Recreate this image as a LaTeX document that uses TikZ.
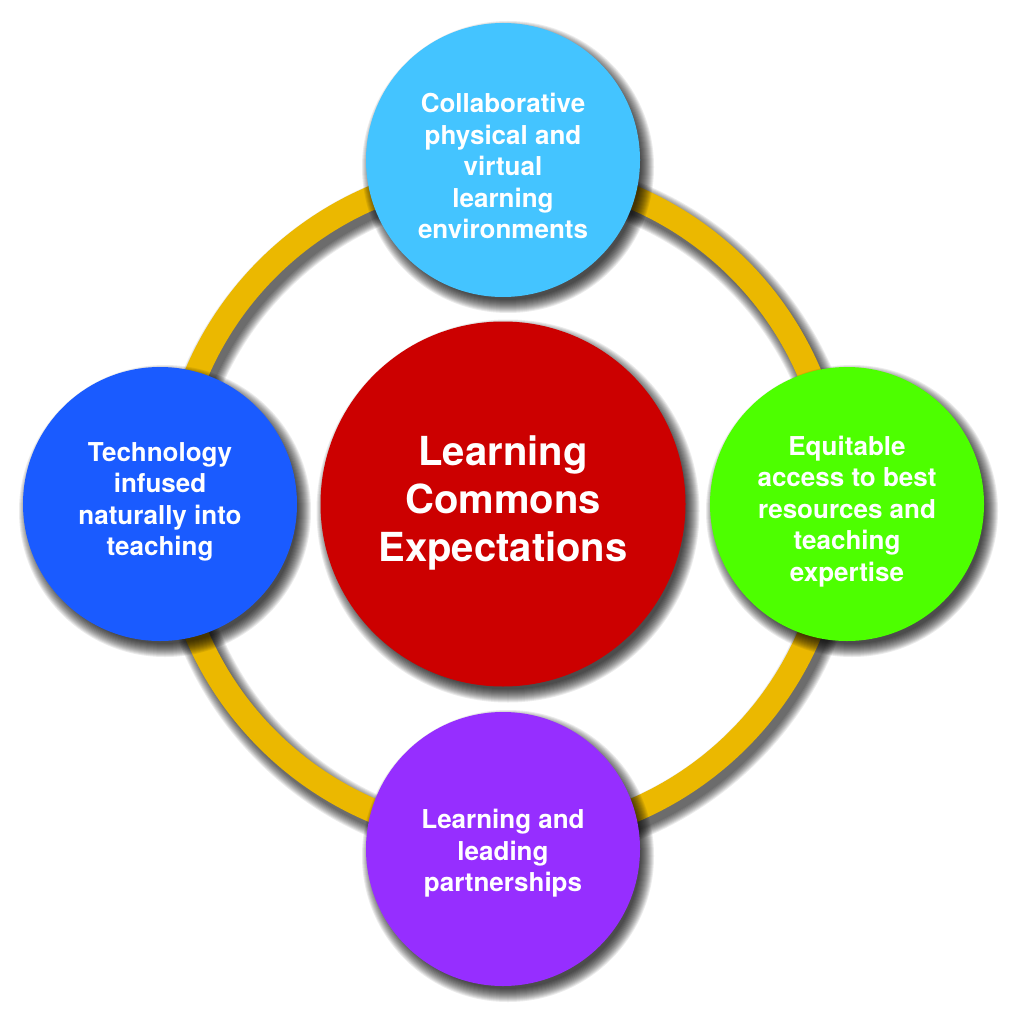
\documentclass[tikz,border=0pt]{standalone}
\usepackage{fontspec}
\setmainfont{TeX Gyre Heros}
\definecolor{ringgold}{HTML}{EBB800}
\definecolor{cred}{HTML}{CC0000}
\definecolor{ccyan}{HTML}{44C4FF}
\definecolor{cblue}{HTML}{1A5BFF}
\definecolor{cgreen}{HTML}{4DFF00}
\definecolor{cpurple}{HTML}{962EFF}
\tikzset{
  bubble/.style={circle, inner sep=0pt, minimum size=274pt},
  hub/.style={circle, inner sep=0pt, minimum size=365pt, fill=cred},
  sattext/.style={text=white, align=center, inner sep=0pt, font=\bfseries\fontsize{26}{31.5}\selectfont},
  hubtext/.style={text=white, align=center, inner sep=0pt, font=\bfseries\fontsize{40}{48}\selectfont},
  shadowlayer/.style={black, opacity=0.08}
}
\newcommand\myshadow[2]{%
  \foreach \k [evaluate=\k as \rr using #2-4+\k] in {0,...,13}{%
    \fill[shadowlayer] ([xshift=5pt,yshift=-7pt]#1) circle[radius=\rr pt];
  }%
}
\begin{document}
\begin{tikzpicture}[x=1pt,y=-1pt]
\useasboundingbox (0,0) rectangle (1022,1024);
\fill[white] (0,0) rectangle (1022,1024);
\coordinate (c) at (503,504);
\coordinate (ptop) at (503,160);
\coordinate (pleft) at (160,504);
\coordinate (pright) at (847,504);
\coordinate (pbottom) at (503,849);
% ring
\foreach \k [evaluate=\k as \w using 24+2*\k] in {0,...,9}{%
  \draw[shadowlayer, line width=\w pt] ([xshift=5pt,yshift=-7pt]c) circle[radius=333pt];
}
\draw[ringgold, line width=24pt] (c) circle[radius=333pt];
% hub
\myshadow{c}{182.5}
\node[hub] (hub) at (c) {};
\node[hubtext] (hubT) at ([yshift=1pt]hub.center) {Learning\\Commons\\Expectations};
% satellites
\myshadow{ptop}{137}
\node[bubble, fill=ccyan] (top) at (ptop) {};
\node[sattext] (topT) at ([yshift=-6pt]top.center) {Collaborative\\physical and\\virtual\\learning\\environments};
\myshadow{pleft}{137}
\node[bubble, fill=cblue] (left) at (pleft) {};
\node[sattext] (leftT) at ([yshift=2pt]left.center) {Technology\\infused\\naturally into\\teaching};
\myshadow{pright}{137}
\node[bubble, fill=cgreen] (right) at (pright) {};
\node[sattext] (rightT) at ([yshift=-7.5pt]right.center) {Equitable\\access to best\\resources and\\teaching\\expertise};
\myshadow{pbottom}{137}
\node[bubble, fill=cpurple] (bottom) at (pbottom) {};
\node[sattext] (bottomT) at ([yshift=-4.5pt]bottom.center) {Learning and\\leading\\partnerships};
\end{tikzpicture}
\end{document}
